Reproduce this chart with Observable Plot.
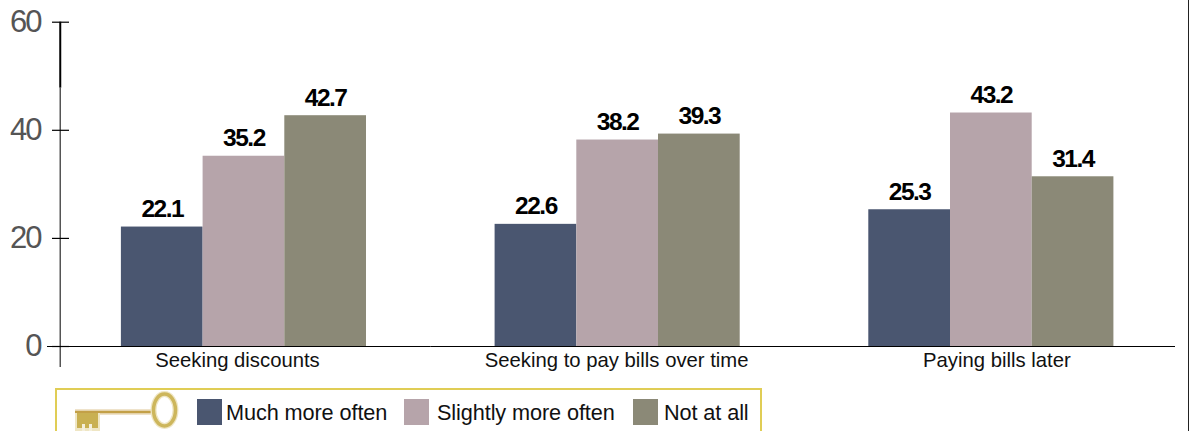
<!DOCTYPE html>
<html>
<head>
<meta charset="utf-8">
<script src="https://cdn.jsdelivr.net/npm/d3@7"></script>
<script src="https://cdn.jsdelivr.net/npm/@observablehq/plot@0.6"></script>
<style>
  html, body { margin: 0; padding: 0; background: #fff; }
  body { width: 1189px; height: 431px; overflow: hidden; position: relative; font-family: "Liberation Sans", Arial, sans-serif; }
  #edge { position: absolute; right: 0; top: 0; bottom: 0; width: 1.5px; background: #222; }
  .value-label text { letter-spacing: -1.5px; }
  .y-axis text { letter-spacing: -2px; }
  #legend { box-sizing: border-box; position: relative; margin: 3px 0 0 55px; width: 707px; height: 60px;
            border: 2px solid #e0cd55; border-bottom: none; }
  #legend svg { position: absolute; left: 0; top: 0; }
  .entry { position: absolute; top: 9px; display: flex; align-items: flex-start; font-size: 21.7px; color: #111; letter-spacing: -0.1px; line-height: 27px; white-space: nowrap; }
  .entry i { display: block; width: 25px; height: 26px; }
</style>
</head>
<body>
<div id="chart"></div>
<div id="legend"></div>
<div id="edge"></div>
<script>
const categories = ["Seeking discounts", "Seeking to pay bills over time", "Paying bills later"];
const categoryLabelShift = [-6.5, -1, 5.5];
const seriesNames = ["Much more often", "Slightly more often", "Not at all"];
const seriesColors = ["#4a5670", "#b6a4aa", "#8b8977"];
const muchMoreOften = [22.1, 22.6, 25.3];
const slightlyMoreOften = [35.2, 38.2, 43.2];
const notAtAll = [42.7, 39.3, 31.4];
const yTicks = [0, 20, 40, 60];
const baselineInsetLeft = [-9.6, 0, 0];
const baselineInsetRight = [0, 0, 2.7];

const rows = categories.flatMap((category, i) => [
  {category, series: seriesNames[0], value: muchMoreOften[i]},
  {category, series: seriesNames[1], value: slightlyMoreOften[i]},
  {category, series: seriesNames[2], value: notAtAll[i]}
]);

const chart = Plot.plot({
  width: 1189,
  height: 385,
  marginTop: 21.7,
  marginBottom: 39,
  marginLeft: 56.6,
  marginRight: 11.3,
  style: {fontFamily: "'Liberation Sans', Arial, sans-serif", background: "transparent"},
  fx: {domain: categories, padding: 0, round: false, label: null, axis: null},
  x: {domain: seriesNames, paddingInner: 0, paddingOuter: 0.787, round: false, axis: null},
  y: {domain: [0, 60], axis: null},
  color: {domain: seriesNames, range: seriesColors},
  marks: [
    // baseline, one piece per facet, reaching past the outer facets' edges
    ...categories.map((category, i) => Plot.ruleY([0], {
      fx: () => category, insetLeft: baselineInsetLeft[i], insetRight: baselineInsetRight[i],
      stroke: "#000", strokeWidth: 1.2
    })),
    // vertical axis line: thin and grey below, heavier and black at the top
    Plot.ruleX([seriesNames[0]], {facetAnchor: "left", y1: -3.9, y2: 47.8, dx: -102, stroke: "#555", strokeWidth: 1.5}),
    Plot.ruleX([seriesNames[0]], {facetAnchor: "left", y1: 47.8, y2: 60, dx: -102, stroke: "#000", strokeWidth: 2}),
    Plot.axisY(yTicks, {
      anchor: "left", dx: 12.4, tickSize: 17, tickPadding: 12, label: null,
      fontSize: 31, fill: "#555", stroke: "#000", strokeWidth: 1.2, className: "y-axis"
    }),
    // category names sit under each group with their own small offset
    ...categories.map((category, i) => Plot.text([category], {
      fx: d => d, text: d => d, frameAnchor: "bottom", lineAnchor: "top",
      dy: 6, dx: categoryLabelShift[i], fontSize: 20.3, fill: "#111"
    })),
    Plot.barY(rows, {fx: "category", x: "series", y: "value", fill: "series"}),
    Plot.text(rows, {
      fx: "category", x: "series", y: "value", text: d => d.value.toFixed(1),
      lineAnchor: "bottom", dy: -10, fontSize: 24.5, fontWeight: "bold", fill: "#000",
      className: "value-label"
    })
  ]
});
document.getElementById("chart").appendChild(chart);

// Legend strip: key icon followed by one swatch per series
const legend = document.getElementById("legend");
legend.innerHTML = `
<svg width="130" height="60" viewBox="0 0 130 60">
  <g fill="none">
    <line x1="18" x2="96" y1="22" y2="22" stroke="#efe3cb" stroke-width="6"/>
    <line x1="18" x2="96" y1="22" y2="22" stroke="#c3a048" stroke-width="2.5"/>
    <rect x="18" y="23" width="25" height="18" fill="#efe6c4"/>
    <rect x="20" y="23" width="21" height="15" fill="#c9b052"/>
    <rect x="25" y="34" width="3" height="7" fill="#f4efdc"/>
    <rect x="32" y="34" width="3" height="7" fill="#f4efdc"/>
    <ellipse cx="107.5" cy="20" rx="11" ry="16" stroke="#efe6c4" stroke-width="6"/>
    <ellipse cx="107.5" cy="20" rx="11" ry="16" stroke="#cdb65c" stroke-width="3.5"/>
  </g>
</svg>`;
const entryLeft = [140, 347, 576];
const entryGap = [4, 8, 6];
seriesNames.forEach((name, i) => {
  const entry = document.createElement("div");
  entry.className = "entry";
  entry.style.left = entryLeft[i] + "px";
  const swatch = document.createElement("i");
  swatch.style.background = seriesColors[i];
  swatch.style.marginRight = entryGap[i] + "px";
  entry.appendChild(swatch);
  entry.appendChild(document.createTextNode(name));
  legend.appendChild(entry);
});
</script>
</body>
</html>
